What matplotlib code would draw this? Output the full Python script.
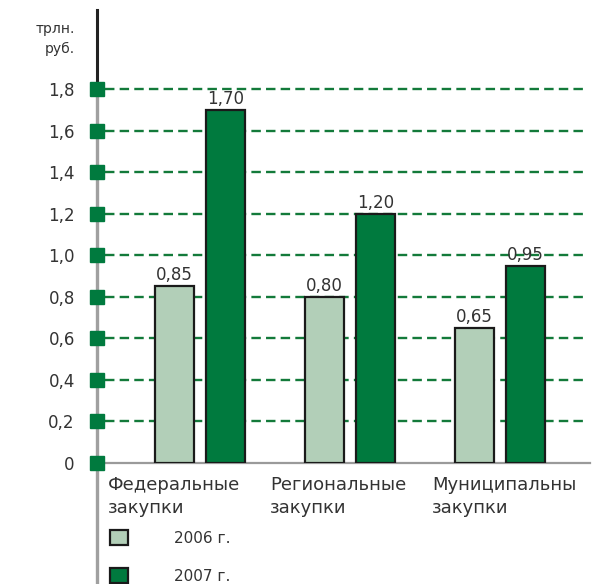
import matplotlib
matplotlib.use('Agg')
import matplotlib.pyplot as plt
from matplotlib.lines import Line2D
import numpy as np

# data
categories = ['Федеральные\nзакупки', 'Региональные\nзакупки', 'Муниципальны\nзакупки']
vals_2006 = [0.85, 0.80, 0.65]
vals_2007 = [1.70, 1.20, 0.95]
series_labels = ['2006 г.', '2007 г.']
yticks = [0, 0.2, 0.4, 0.6, 0.8, 1.0, 1.2, 1.4, 1.6, 1.8]
ylabel = 'трлн.\nруб.'

light = '#b2cfb8'
dark = '#007a3e'
gridc = '#137a3a'
txtc = '#333333'

plt.rcParams['font.family'] = ['DejaVu Sans']

W, H = 600, 584
fig = plt.figure(figsize=(6, 5.84), dpi=100)
# axes: x from px 97 to 590, y from px 463 (zero) up to px 10
ax = fig.add_axes([97/W, (H-463)/H, (590-97)/W, (463-10)/H])
ax.set_facecolor('none')
ax.set_xlim(-0.687, 2.6)
ax.set_ylim(0, (463-10)/207.8)
for s in ax.spines.values():
    s.set_visible(False)

x = np.arange(len(categories))
off = 0.17
bw = 0.26

# dashed grid lines (not at zero)
for t in yticks[1:]:
    ax.plot([-0.633, 2.567], [t, t], color=gridc, lw=1.7, ls=(0, (4, 2.2)), zorder=1)

b1 = ax.bar(x - off, vals_2006, bw, color=light, edgecolor='#1a1a1a', lw=1.6, zorder=3, label=series_labels[0])
b2 = ax.bar(x + off, vals_2007, bw, color=dark, edgecolor='#1a1a1a', lw=1.6, zorder=3, label=series_labels[1])

for bars, vals in [(b1, vals_2006), (b2, vals_2007)]:
    for r, v in zip(bars, vals):
        ax.text(r.get_x() + r.get_width()/2, v + 0.01, ('%.2f' % v).replace('.', ','),
                ha='center', va='bottom', fontsize=12, color=txtc, zorder=4)

# baseline
ax.plot([-0.687, 2.6], [0, 0], color='#9a9a9a', lw=1.6, zorder=2, clip_on=False)

# axis line: dark at top, grey below (drawn under the axes so the squares sit on top)
fig.add_artist(Line2D([97/W, 97/W], [(H-10)/H, (H-89)/H], color='#222222', lw=2.2, zorder=-1))
fig.add_artist(Line2D([97/W, 97/W], [(H-89)/H, 0], color='#a0a0a0', lw=2.4, zorder=-1))

# square tick markers
ax.plot([-0.687]*len(yticks), yticks, 's', color=dark, ms=9.5, clip_on=False, zorder=5)

ax.set_xticks([])
ax.set_yticks(yticks)
ax.set_yticklabels([('%.1f' % t).replace('.', ',') if t else '0' for t in yticks],
                   fontsize=12, color=txtc)
ax.tick_params(axis='y', length=0, pad=16)

fig.text(75/W, 1-22/H, ylabel, ha='right', va='top', fontsize=10, color=txtc, linespacing=1.5)

lbl_x = [-0.613, 0.467, 1.547]
for lx, c in zip(lbl_x, categories):
    ax.text(lx, -0.028, c, transform=ax.get_xaxis_transform(), ha='left', va='top',
            fontsize=13, color=txtc, linespacing=1.4)

ax.legend(handles=[b1, b2], labels=series_labels, loc='upper left',
          bbox_to_anchor=(110/W, 1-530/H), bbox_transform=fig.transFigure,
          frameon=False, fontsize=11, handlelength=1.2, handleheight=1.1,
          handletextpad=3.0, labelspacing=1.5, borderpad=0, borderaxespad=0)
for t in ax.get_legend().get_texts():
    t.set_color(txtc)

fig.savefig('out.png', dpi=100)
